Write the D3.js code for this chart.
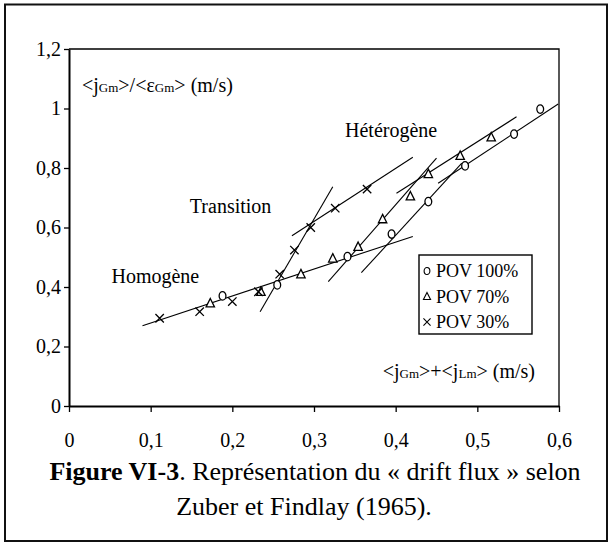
<!DOCTYPE html>
<html>
<head>
<meta charset="utf-8">
<script src="https://cdn.jsdelivr.net/npm/d3@7/dist/d3.min.js"></script>
<style>
  html, body { margin: 0; padding: 0; background: #fff; }
  svg { display: block; }
  text { font-family: "Liberation Serif", "Times New Roman", serif; fill: #000; }
</style>
</head>
<body>
<svg id="chart" width="610" height="543"></svg>
<script>
// Measured points: superficial mixture velocity vs drift ratio
const pov100 = [
  [0.188, 0.370], [0.255, 0.407], [0.341, 0.502], [0.395, 0.578],
  [0.440, 0.687], [0.485, 0.807], [0.545, 0.914], [0.577, 0.998]
];
const pov70 = [
  [0.173, 0.345], [0.235, 0.384], [0.284, 0.443], [0.323, 0.496],
  [0.354, 0.535], [0.384, 0.628], [0.418, 0.705], [0.440, 0.780],
  [0.479, 0.841], [0.517, 0.903]
];
const pov30 = [
  [0.111, 0.295], [0.160, 0.317], [0.200, 0.351], [0.232, 0.384],
  [0.258, 0.443], [0.276, 0.524], [0.296, 0.600], [0.326, 0.665],
  [0.365, 0.729]
];

// Fitted regime lines, each as [x1, y1, x2, y2]
const fitLines = [
  [0.090, 0.270, 0.421, 0.570],   // homogeneous regime
  [0.234, 0.317, 0.323, 0.737],   // transition, POV 30%
  [0.273, 0.572, 0.421, 0.836],   // heterogeneous, POV 30%
  [0.3175, 0.418, 0.450, 0.833],  // transition, POV 70%
  [0.358, 0.448, 0.481, 0.816],   // transition, POV 100%
  [0.401, 0.715, 0.548, 0.972],   // heterogeneous, POV 70%
  [0.452, 0.749, 0.599, 1.015]    // heterogeneous, POV 100%
];

const xTicks = [0, 0.1, 0.2, 0.3, 0.4, 0.5, 0.6];
const xTickLabels = ["0", "0,1", "0,2", "0,3", "0,4", "0,5", "0,6"];
const yTicks = [0, 0.2, 0.4, 0.6, 0.8, 1.0, 1.2];
const yTickLabels = ["0", "0,2", "0,4", "0,6", "0,8", "1", "1,2"];

const regimeLabels = [
  { text: "Homogène", x: 0.052, y: 0.415 },
  { text: "Transition", x: 0.148, y: 0.65 },
  { text: "Hétérogène", x: 0.338, y: 0.905 }
];
const legendItems = [
  { label: "POV 100%", shape: "circle" },
  { label: "POV 70%", shape: "triangle" },
  { label: "POV 30%", shape: "cross" }
];

const svg = d3.select("#chart");

// Outer figure frame
svg.append("rect")
  .attr("x", 5).attr("y", 4.5).attr("width", 602).attr("height", 536.5)
  .attr("fill", "none").attr("stroke", "#111").attr("stroke-width", 2);

const x = d3.scaleLinear().domain([0, 0.6]).range([69, 559]);
const y = d3.scaleLinear().domain([0, 1.2]).range([406, 49]);

// Plot frame (top and right edges)
svg.append("path")
  .attr("d", `M${x(0)},${y(1.2)}H${x(0.6)}V${y(0)}`)
  .attr("fill", "none").attr("stroke", "#000").attr("stroke-width", 1.3);

const yAxis = svg.append("g")
  .attr("transform", `translate(${x(0)},0)`)
  .call(d3.axisLeft(y).tickValues(yTicks)
    .tickFormat((d, i) => yTickLabels[i]).tickSize(5).tickSizeOuter(0).tickPadding(3));
const xAxis = svg.append("g")
  .attr("transform", `translate(0,${y(0)})`)
  .call(d3.axisBottom(x).tickValues(xTicks)
    .tickFormat((d, i) => xTickLabels[i]).tickSize(6).tickSizeOuter(0).tickPadding(21));
[yAxis, xAxis].forEach(g => {
  g.select(".domain").attr("stroke", "#000").attr("stroke-width", 2);
  g.selectAll(".tick line").attr("stroke", "#000").attr("stroke-width", 1.3);
  g.selectAll("text").attr("font-size", 20)
    .attr("font-family", '"Liberation Serif", "Times New Roman", serif').attr("fill", "#000");
});

// Regime fit lines
svg.append("g").selectAll("line").data(fitLines).join("line")
  .attr("x1", d => x(d[0])).attr("y1", d => y(d[1]))
  .attr("x2", d => x(d[2])).attr("y2", d => y(d[3]))
  .attr("stroke", "#000").attr("stroke-width", 1.1);

// Marker drawing helpers
function drawMarker(g, shape) {
  if (shape === "circle") {
    g.append("ellipse").attr("rx", 3.4).attr("ry", 4.2)
      .attr("fill", "#fff").attr("stroke", "#000").attr("stroke-width", 1.3);
  } else if (shape === "triangle") {
    g.append("path").attr("d", "M0,-4.8L4.2,3.6L-4.2,3.6Z")
      .attr("fill", "#fff").attr("stroke", "#000").attr("stroke-width", 1.3);
  } else {
    g.append("path").attr("d", "M-4.2,-4.2L4.2,4.2M-4.2,4.2L4.2,-4.2")
      .attr("fill", "none").attr("stroke", "#000").attr("stroke-width", 1.3);
  }
}

const series = [
  { data: pov70, shape: "triangle" },
  { data: pov100, shape: "circle" },
  { data: pov30, shape: "cross" }
];
series.forEach(s => {
  svg.append("g").selectAll("g").data(s.data).join("g")
    .attr("transform", d => `translate(${x(d[0])},${y(d[1])})`)
    .each(function () { drawMarker(d3.select(this), s.shape); });
});

// Regime labels
svg.append("g").selectAll("text").data(regimeLabels).join("text")
  .attr("x", d => x(d.x)).attr("y", d => y(d.y))
  .attr("font-size", 20).text(d => d.text);

// Axis titles with subscripts
function axisTitle(parts, tx, ty, anchor) {
  const t = svg.append("text").attr("x", tx).attr("y", ty)
    .attr("font-size", 20).attr("text-anchor", anchor);
  parts.forEach(p => {
    t.append("tspan").attr("font-size", p[1] ? 13 : 20).text(p[0]);
  });
}
axisTitle([["<j"], ["Gm", 1], [">/<ε"], ["Gm", 1], ["> (m/s)"]], 82, 92, "start");
axisTitle([["<j"], ["Gm", 1], [">+<j"], ["Lm", 1], ["> (m/s)"]], 535, 378, "end");

// Legend
const legend = svg.append("g").attr("transform", "translate(419,255)");
legend.append("rect").attr("width", 113).attr("height", 79)
  .attr("fill", "#fff").attr("stroke", "#000").attr("stroke-width", 1.4);
legendItems.forEach((item, i) => {
  const row = legend.append("g").attr("transform", `translate(0,${16 + i * 25.5})`);
  const m = row.append("g").attr("transform", "translate(8,0) scale(0.85)");
  drawMarker(m, item.shape);
  row.append("text").attr("x", 17).attr("y", 6).attr("font-size", 18).text(item.label);
});

// Caption
const cap1 = svg.append("text").attr("x", 315).attr("y", 480)
  .attr("text-anchor", "middle").attr("font-size", 26);
cap1.append("tspan").attr("font-weight", "bold").text("Figure VI-3");
cap1.append("tspan").text(". Représentation du « drift flux » selon");
svg.append("text").attr("x", 304).attr("y", 515)
  .attr("text-anchor", "middle").attr("font-size", 26)
  .text("Zuber et Findlay (1965).");
</script>
</body>
</html>
